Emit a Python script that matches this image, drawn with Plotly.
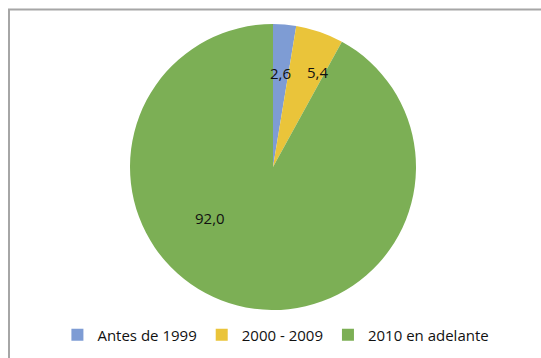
import math
import plotly.graph_objects as go

# Share of records by period
categories = ["Antes de 1999", "2000 - 2009", "2010 en adelante"]
values = [2.6, 5.4, 92.0]
colors = ["#7E9CD4", "#EAC43A", "#7CAF55"]

labels_text = [f"{v:.1f}".replace(".", ",") for v in values]

W, H = 541, 358
FONT = "Open Sans, Lato, sans-serif"

# Pie placement (pixels)
pie_left, pie_right, pie_top, pie_bottom = 130, 416, 24, 310
cx = (pie_left + pie_right) / 2
cy = (pie_top + pie_bottom) / 2
R = (pie_right - pie_left) / 2

# Label placement: extra turn (deg) from each slice's mid-angle and radial fraction
label_turn = [0, 6, 36.6]
label_radius = [0.66, 0.73, 0.57]

fig = go.Figure(
    go.Pie(
        labels=categories,
        values=values,
        textinfo="none",
        marker=dict(colors=colors, line=dict(width=0)),
        sort=False,
        direction="clockwise",
        rotation=0,
        hole=0,
        domain=dict(x=[pie_left / W, pie_right / W],
                    y=[(H - pie_bottom) / H, (H - pie_top) / H]),
    )
)

# Data labels at each slice's angle
total = sum(values)
cum = 0.0
for v, txt, turn, rf in zip(values, labels_text, label_turn, label_radius):
    mid = (cum + v / 2) / total * 360.0 + turn
    cum += v
    a = math.radians(mid)
    px = cx + rf * R * math.sin(a)
    py = cy - rf * R * math.cos(a)
    fig.add_annotation(
        x=px / W, y=1 - py / H, xref="paper", yref="paper",
        text=txt, showarrow=False,
        font=dict(family=FONT, size=15, color="#111111"),
        xanchor="center", yanchor="middle",
    )

# Chart frame
fig.add_shape(
    type="rect",
    xref="paper", yref="paper",
    x0=9 / W, x1=1.2, y0=-0.2, y1=1 - 9.5 / H,
    line=dict(color="#A6A6A6", width=2),
    fillcolor="rgba(0,0,0,0)",
)

fig.update_layout(
    width=W,
    height=H,
    margin=dict(l=0, r=0, t=0, b=0),
    paper_bgcolor="white",
    plot_bgcolor="white",
    showlegend=True,
    legend=dict(
        orientation="h",
        x=0.51, xanchor="center",
        y=(H - 335) / H, yanchor="middle",
        font=dict(family=FONT, size=15, color="#111111"),
        itemclick=False,
        bgcolor="rgba(0,0,0,0)",
    ),
)

fig.write_html("out.html")
